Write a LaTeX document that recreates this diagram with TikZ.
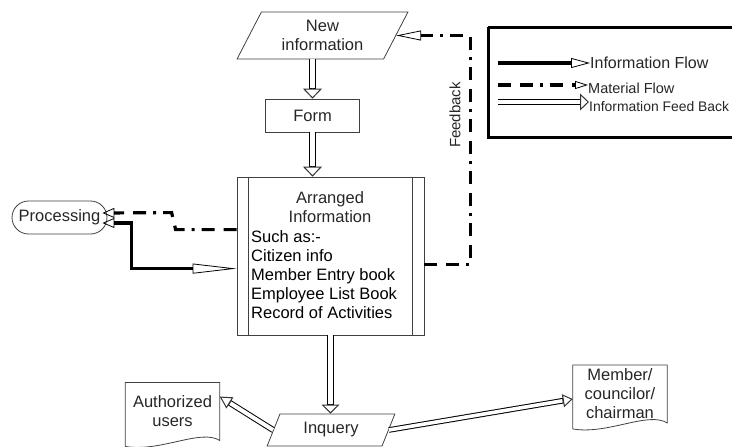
\documentclass[tikz,border=0pt]{standalone}
\usepackage{fontspec}
\setmainfont{Liberation Sans}
\usetikzlibrary{positioning,arrows.meta,shapes.geometric,calc}

\newcommand{\docwave}[1]{%
  \draw[thinline] ($(#1.south west)+(0,6)$) -- (#1.north west) -- (#1.north east)
    -- (#1.south east)
    .. controls ($(#1.south east)!0.2!(#1.south west)+(0,-12)$)
    and ($(#1.south west)!0.37!(#1.south east)+(0,12)$) .. ($(#1.south west)+(0,6)$);}

\begin{document}
\begin{tikzpicture}[
    x=1pt,y=-1pt,
    txt/.style={font=\fontsize{16.5}{19}\selectfont,text=black!85},
    thinline/.style={draw=black!75,line width=0.8pt},
    box/.style={thinline,txt,align=center,inner sep=0pt},
    slant/.style 2 args={box,trapezium,trapezium left angle=#1,
      trapezium right angle=#2,trapezium stretches=true},
    doc/.style={txt,align=center,inner sep=0pt,minimum width=94,minimum height=57.5},
    feed/.style n args={3}{draw=black!80,line width=1pt,
      -{Triangle[open,length=#1,width=#2]},
      preaction={draw,-,line width=#3,shorten >=#1-0.4pt},
      postaction={draw=white,-,line width=#3-2pt,shorten >=#1+0.5pt}},
    info/.style={line width=3.2pt,black},
    material/.style={line width=3.2pt,black,
      dash pattern=on 13pt off 9pt on 13pt off 7pt on 3pt off 7pt},
    smallhead/.tip={Triangle[open,line width=0.8pt,length=12pt,width=10pt]},
    legtxt/.style={txt,font=\fontsize{14.5}{16}\selectfont,anchor=west,inner sep=0pt}
  ]
  \path[use as bounding box] (0,0) rectangle (732,447);

  % flow chart
  \node[slant={62}{118},minimum width=171,minimum height=47] (newinfo) at (322.5,35.5) {New\\information};
  \node[box,minimum width=94,minimum height=33] (form) at (312.5,115.5) {Form};
  \node[box,minimum width=187,minimum height=158] (arr) at (330.5,256) {};
  \draw[thinline] ([xshift=12pt]arr.north west) -- ([xshift=12pt]arr.south west);
  \draw[thinline] ([xshift=-12pt]arr.north east) -- ([xshift=-12pt]arr.south east);
  \node[txt,align=center,inner sep=0pt] (arrtitle) at (330,207) {Arranged\\Information};
  \node[txt,text=black,align=left,anchor=north west,inner sep=0pt] (arrlist) at (251,230)
    {Such as:-\\Citizen info\\Member Entry book\\Employee List Book\\Record of Activities};
  \node[box,rounded corners=16.5pt,minimum width=95,minimum height=33] (proc) at (59.5,217.5) {Processing};
  \node[slant={65}{115},minimum width=128,minimum height=32] (inq) at (331,430) {Inquery};
  \node[doc] (auth) at (172.5,411.5) {Authorized\\users};
  \docwave{auth}
  \node[doc] (memb) at (620,394) {Member/\\councilor/\\chairman};
  \docwave{memb}

  % connectors
  \draw[feed={10pt}{19pt}{7pt}] (form.north |- newinfo.south) -- (form.north);
  \draw[feed={10pt}{19pt}{7pt}] (form.south) -- (form.south |- arr.north);
  \draw[feed={9pt}{18pt}{7pt}] (arr.south) -- (arr.south |- inq.north);
  \draw[feed={12pt}{13pt}{6pt}] (inq.west) -- ($(auth.north east)+(0,14)$);
  \draw[feed={10pt}{13pt}{5.6pt}] (inq.east) -- ($(memb.north west)+(0,34)$);

  \draw[material,-{Triangle[open,line width=0.8pt,length=25pt,width=10pt]}]
    ($(arr.north east)+(0,88)$) -| ($(newinfo.east)+(74,0)$) -- (newinfo.east);
  \node[txt,font=\fontsize{15}{17}\selectfont,rotate=90] (fblabel) at (455,115) {Feedback};

  \draw[material,-smallhead] ($(arr.north west)+(0,53)$) -- ++(-61,0) -- ++(-4,-17)
    -- ($(proc.east)+(-5,-4.5)$);
  \draw[info,smallhead-{Triangle[open,line width=0.8pt,length=44pt,width=10pt]}]
    ($(proc.east)+(-5,5.5)$) -| ($(arr.north west)+(-105,92)$) -- ($(arr.north west)+(0,92)$);

  % legend
  \draw[line width=3pt] (488,27) -- (732,27) (488,27) -- (488,137) -- (732,137);
  \coordinate (lgi) at (498,63);
  \coordinate (lgm) at (498,85);
  \coordinate (lgf) at (498,102);
  \node[legtxt,font=\fontsize{16}{18}\selectfont] (lginfo) at (590,63) {Information Flow};
  \node[legtxt] (lgmat) at (588,88) {Material Flow};
  \node[legtxt,font=\fontsize{13.9}{16}\selectfont] (lgfeed) at (589,107) {Information Feed Back};
  \draw[info,-{Triangle[open,line width=0.8pt,length=19pt,width=10pt]}] (lgi) -- (lginfo.west);
  \draw[material,-{Triangle[open,line width=0.8pt,length=13pt,width=8pt]}] (lgm) -- (lgm -| lgmat.west);
  \draw[feed={9pt}{17pt}{6pt}] (lgf) -- (lgf -| lgfeed.west);
\end{tikzpicture}
\end{document}
